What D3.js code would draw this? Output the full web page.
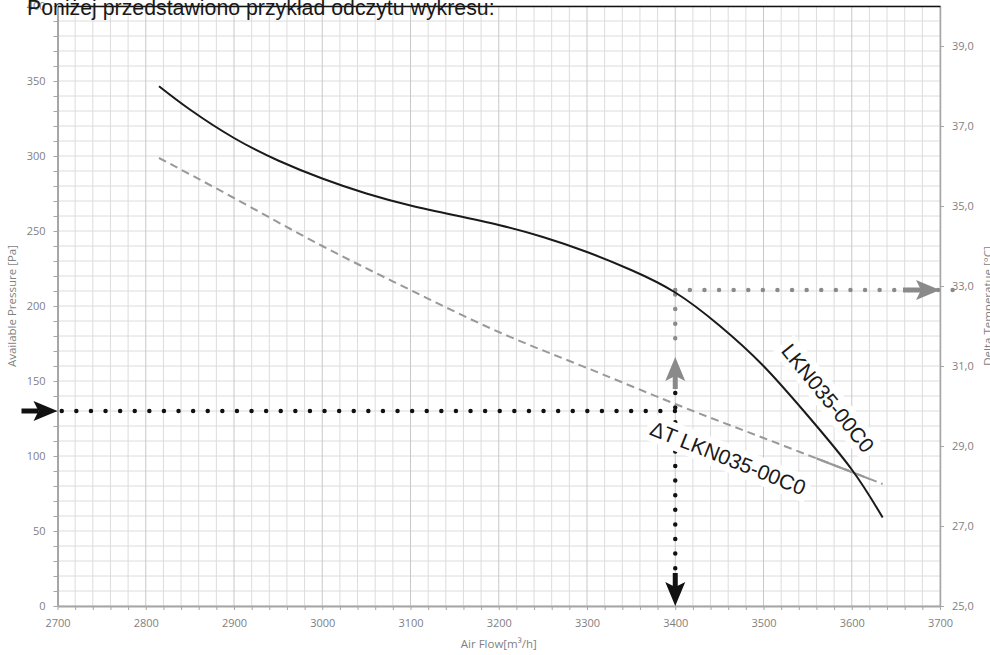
<!DOCTYPE html>
<html>
<head>
<meta charset="utf-8">
<script src="https://cdn.jsdelivr.net/npm/d3@7"></script>
<style>
  html, body { margin: 0; padding: 0; background: #fff; }
  svg { display: block; }
</style>
</head>
<body>
<svg id="chart" width="990" height="655"></svg>
<script>
// Fan curve (available pressure vs. air flow)
const flowPts     = [2815, 2850, 2900, 2950, 3000, 3050, 3100, 3150, 3200, 3250, 3300, 3350, 3400, 3450, 3500, 3550, 3600, 3635];
const pressurePts = [346.5, 331, 312, 297, 285, 275, 267, 260.5, 254, 246, 236, 224, 209, 187, 160, 127, 91, 59];

// Delta temperature curve (right axis)
const flowDT = [2815, 2900, 3000, 3100, 3200, 3300, 3400, 3500, 3600, 3635];
const deltaT = [36.2, 35.2, 34.0, 32.9, 31.85, 30.95, 30.05, 29.2, 28.35, 28.05];

// Axis ticks
const flowTicks = [2700, 2800, 2900, 3000, 3100, 3200, 3300, 3400, 3500, 3600, 3700];
const pressureTicks = [0, 50, 100, 150, 200, 250, 300, 350, 400];
const tempTicks = [25, 27, 29, 31, 33, 35, 37, 39];

// Reading example: 3400 m3/h at 130 Pa, delta T read at the curve
const readFlow = 3400;
const readPressure = 130;
const readCurvePressure = 209;
const readDeltaT = 32.9;
const upArrowPressure = 166;

const curveLabel = "LKN035-00C0";
const dtLabel = "ΔT LKN035-00C0";

const svg = d3.select("#chart");

const x = d3.scaleLinear().domain([2700, 3700]).range([57.5, 940]);
const y = d3.scaleLinear().domain([0, 400]).range([606, 6]);
const yR = d3.scaleLinear().domain([25, 40]).range([606, 6]);

// grid
const grid = svg.append("g");
grid.selectAll("line.h").data(d3.range(0, 401, 10)).join("line")
  .attr("x1", x(2700)).attr("x2", x(3700))
  .attr("y1", d => y(d)).attr("y2", d => y(d))
  .attr("stroke", "#dcdcdc").attr("stroke-width", 1);
grid.selectAll("line.v").data(d3.range(2700, 3701, 20)).join("line")
  .attr("y1", y(0)).attr("y2", y(400))
  .attr("x1", d => x(d)).attr("x2", d => x(d))
  .attr("stroke", d => (d % 100 === 0) ? "#c8c8c8" : "#dcdcdc").attr("stroke-width", 1);

// axes
function styleAxis(g, color, w) {
  g.select(".domain").attr("stroke", color).attr("stroke-width", w);
  g.selectAll(".tick line").attr("stroke", "#a6a6a6").attr("stroke-width", 1);
  g.selectAll(".tick text").attr("font-family", "Open Sans, sans-serif").attr("font-size", 11).attr("fill", "#7f7f7f");
}
const leftMinor = svg.append("g").attr("transform", `translate(${x(2700)},0)`)
  .call(d3.axisLeft(y).tickValues(d3.range(0, 401, 10)).tickSize(4).tickSizeOuter(0).tickFormat(""));
styleAxis(leftMinor, "#a6a6a6", 2);
const leftLab = svg.append("g").attr("transform", `translate(${x(2700)},0)`)
  .call(d3.axisLeft(y).tickValues(pressureTicks).tickSize(0).tickPadding(12).tickFormat(d3.format("d")));
styleAxis(leftLab, "#a6a6a6", 0);
leftLab.select(".domain").remove();

const botMinor = svg.append("g").attr("transform", `translate(0,${y(0)})`)
  .call(d3.axisBottom(x).tickValues(d3.range(2700, 3701, 20)).tickSize(4).tickSizeOuter(0).tickFormat(""));
styleAxis(botMinor, "#a6a6a6", 2);
const botLab = svg.append("g").attr("transform", `translate(0,${y(0)})`)
  .call(d3.axisBottom(x).tickValues(flowTicks).tickSize(0).tickPadding(13).tickFormat(d3.format("d")));
styleAxis(botLab, "#a6a6a6", 0);
botLab.select(".domain").remove();

const rightAxis = svg.append("g").attr("transform", `translate(${x(3700)},0)`)
  .call(d3.axisRight(yR).tickValues(tempTicks).tickSize(4).tickSizeOuter(0).tickPadding(8)
    .tickFormat(d => d3.format(".1f")(d).replace(".", ",")));
styleAxis(rightAxis, "#a6a6a6", 1.5);

const topBorder = svg.append("g").attr("transform", `translate(0,${y(400)})`)
  .call(d3.axisTop(x).tickValues([]).tickSizeOuter(0));
topBorder.select(".domain").attr("stroke", "#111").attr("stroke-width", 1.4);

// axis titles
const titleStyle = s => s.attr("font-family", "Open Sans, sans-serif").attr("font-size", 11.5).attr("fill", "#7f7f7f").attr("text-anchor", "middle");
svg.append("text").call(titleStyle)
  .attr("transform", `translate(16,${(y(0) + y(400)) / 2}) rotate(-90)`)
  .text("Available Pressure [Pa]");
svg.append("text").call(titleStyle)
  .attr("x", (x(2700) + x(3700)) / 2).attr("y", 648)
  .text("Air Flow[m³/h]");
svg.append("text").call(titleStyle)
  .attr("transform", `translate(992,${(y(0) + y(400)) / 2}) rotate(-90)`)
  .text("Delta Temperatue [°C]");

// reading guides (dotted)
const dot = (sel, color) => sel.attr("stroke", color).attr("stroke-width", 4.5)
  .attr("stroke-linecap", "round").attr("stroke-dasharray", "0,14.6").attr("fill", "none");
const black = "#111", grey = "#8a8a8a";
const guides = svg.append("g");
guides.append("line").call(dot, black)
  .attr("x1", x(2704.8)).attr("x2", x(readFlow)).attr("y1", y(readPressure)).attr("y2", y(readPressure));
guides.append("line").call(dot, black)
  .attr("x1", x(readFlow)).attr("x2", x(readFlow)).attr("y1", y(142)).attr("y2", y(24));
guides.append("line").call(dot, grey)
  .attr("x1", x(readFlow)).attr("x2", x(readFlow)).attr("y1", y(readCurvePressure) + 2).attr("y2", y(upArrowPressure) - 8);
guides.append("line").call(dot, grey)
  .attr("x1", x(readFlow)).attr("x2", 954).attr("y1", yR(readDeltaT)).attr("y2", yR(readDeltaT));

// labels with white background boxes
function boxedLabel(text, cx, cy, angle) {
  const g = svg.append("g").attr("transform", `translate(${cx},${cy}) rotate(${angle})`);
  const t = g.append("text").attr("text-anchor", "middle").attr("dominant-baseline", "central")
    .attr("font-family", "Liberation Sans, Arial, sans-serif").attr("font-size", 21).attr("fill", "#1a1a1a")
    .text(text);
  const b = t.node().getBBox();
  g.insert("rect", "text").attr("x", b.x - 4).attr("y", b.y - 2).attr("width", b.width + 8).attr("height", b.height + 4)
    .attr("fill", "#fff");
  return g;
}
boxedLabel(dtLabel, 728, 458, 21.8);

// series
const line = d3.line().curve(d3.curveNatural);
const dtPath = line(flowDT.map((f, i) => [x(f), yR(deltaT[i])]));
svg.append("path").attr("d", dtPath).attr("fill", "none")
  .attr("stroke", "#999").attr("stroke-width", 2).attr("stroke-dasharray", "8,5");
svg.append("clipPath").attr("id", "leader")
  .append("rect").attr("x", x(3560)).attr("width", x(3620) - x(3560)).attr("y", 0).attr("height", 655);
svg.append("path").attr("d", dtPath).attr("fill", "none").attr("clip-path", "url(#leader)")
  .attr("stroke", "#999").attr("stroke-width", 2.2);

boxedLabel(curveLabel, 828, 398, 50.8);

svg.append("path").attr("d", line(flowPts.map((f, i) => [x(f), y(pressurePts[i])])))
  .attr("fill", "none").attr("stroke", "#1a1a1a").attr("stroke-width", 2);

// arrows
function arrow(tipX, tipY, dx, dy, color, shaft) {
  const L = 24, W = 10, N = 5;
  const nx = -dy, ny = dx;
  const bx = tipX - L * dx, by = tipY - L * dy;
  const g = svg.append("g");
  g.append("line")
    .attr("x1", tipX - (L - N) * dx).attr("y1", tipY - (L - N) * dy)
    .attr("x2", tipX - (L + shaft) * dx).attr("y2", tipY - (L + shaft) * dy)
    .attr("stroke", color).attr("stroke-width", 5);
  g.append("path")
    .attr("d", `M${tipX},${tipY}L${bx + W * nx},${by + W * ny}L${tipX - (L - N) * dx},${tipY - (L - N) * dy}L${bx - W * nx},${by - W * ny}Z`)
    .attr("fill", color);
}
arrow(x(2700), y(readPressure), 1, 0, black, 12);
arrow(x(readFlow), y(0), 0, 1, black, 9);
arrow(x(readFlow), y(upArrowPressure), 0, -1, grey, 8);
arrow(x(3700), yR(readDeltaT), 1, 0, grey, 13);

// heading text above the chart
svg.append("text").attr("x", 27).attr("y", 15)
  .attr("font-family", "Liberation Sans, Arial, sans-serif").attr("font-size", 21.3).attr("fill", "#1a1a1a")
  .text("Poniżej przedstawiono przykład odczytu wykresu:");
</script>
</body>
</html>
